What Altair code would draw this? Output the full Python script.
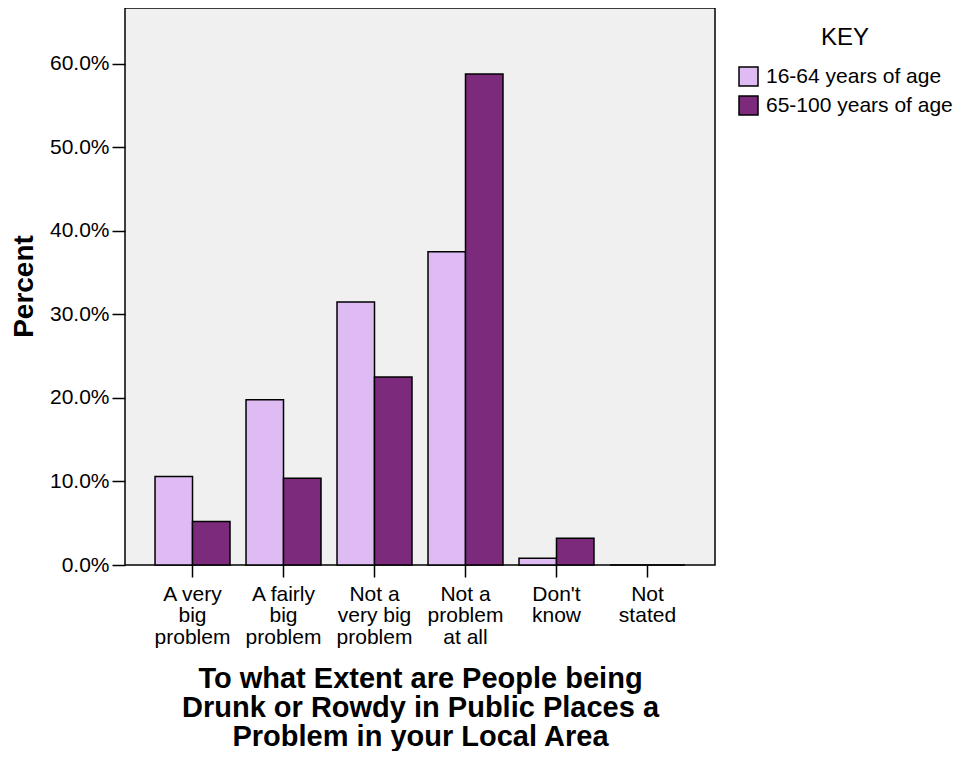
import json
import altair as alt
import pandas as pd

categories = ["A very big problem", "A fairly big problem", "Not a very big problem",
              "Not a problem at all", "Don't know", "Not stated"]
category_lines = [["A very", "big", "problem"], ["A fairly", "big", "problem"],
                  ["Not a", "very big", "problem"], ["Not a", "problem", "at all"],
                  ["Don't", "know"], ["Not", "stated"]]
groups = ["16-64 years of age", "65-100 years of age"]
young = [0.106, 0.198, 0.315, 0.375, 0.008, 0.0]
old = [0.052, 0.104, 0.225, 0.588, 0.032, 0.0]
colors = ["#DFBBF3", "#7C2A7C"]
y_ticks = [0.0, 0.1, 0.2, 0.3, 0.4, 0.5, 0.6]
x_title = ["To what Extent are People being", "Drunk or Rowdy in Public Places a",
           "Problem in your Local Area"]

rows = []
for c, a, b in zip(categories, young, old):
    rows.append({"cat": c, "group": groups[0], "pct": a})
    rows.append({"cat": c, "group": groups[1], "pct": b})
df = pd.DataFrame(rows)

expr = json.dumps(category_lines[-1])
for c, lines in reversed(list(zip(categories, category_lines))):
    expr = f"datum.label == {json.dumps(c)} ? {json.dumps(lines)} : ({expr})"

FONT = "Liberation Sans"

chart = alt.Chart(df).mark_bar(stroke="black", strokeWidth=1.5).encode(
    x=alt.X("cat:N", sort=categories,
            scale=alt.Scale(paddingInner=0.176, paddingOuter=0.33),
            axis=alt.Axis(title=x_title, labelAngle=0, labelExpr=expr,
                          labelFontSize=21, labelLineHeight=21.5, labelColor="black",
                          labelFont=FONT, tickSize=12, tickWidth=1.5, tickColor="black",
                          labelPadding=6, domain=False,
                          titleFontSize=29, titleFontWeight="bold", titleFont=FONT,
                          titleLineHeight=29, titleColor="black",
                          titleX=295, titleY=122, titleAlign="center",
                          titleBaseline="alphabetic")),
    xOffset=alt.XOffset("group:N", sort=groups,
                        scale=alt.Scale(paddingInner=0, paddingOuter=0)),
    y=alt.Y("pct:Q", scale=alt.Scale(domain=[0, 0.667], nice=False, zero=True),
            axis=alt.Axis(title="Percent", format=".1%", values=y_ticks, grid=False,
                          labelFontSize=21, labelColor="black", labelFont=FONT,
                          tickSize=13, tickWidth=1.5, tickColor="black", labelPadding=3,
                          domain=False,
                          titleFontSize=28, titleFontWeight="bold", titleFont=FONT,
                          titleColor="black", titleAngle=-90, titleX=-101, titleY=278,
                          titleAlign="center", titleBaseline="middle")),
    color=alt.Color("group:N", scale=alt.Scale(domain=groups, range=colors),
                    legend=alt.Legend(title="KEY", orient="none", legendX=613, legendY=18,
                                      symbolType="square", symbolSize=361,
                                      symbolStrokeColor="black", symbolStrokeWidth=1.5,
                                      labelFontSize=21, labelFont=FONT, labelColor="black",
                                      labelOffset=7, labelLimit=0, rowPadding=4,
                                      titleFontSize=24, titleFontWeight="normal",
                                      titleFont=FONT, titleColor="black",
                                      titleAnchor="middle", titleAlign="center",
                                      titleLimit=0, titlePadding=16, padding=0)),
).properties(
    width=590, height=557,
    autosize=alt.AutoSizeParams(type="none"),
    padding={"left": 117, "top": 0, "right": 243, "bottom": 186},
    background="white",
).configure(font=FONT).configure_view(
    stroke="black", strokeWidth=1.5, fill="#F0F0F0"
)

chart.save("out.html", embed_options={"renderer": "svg", "actions": False})
